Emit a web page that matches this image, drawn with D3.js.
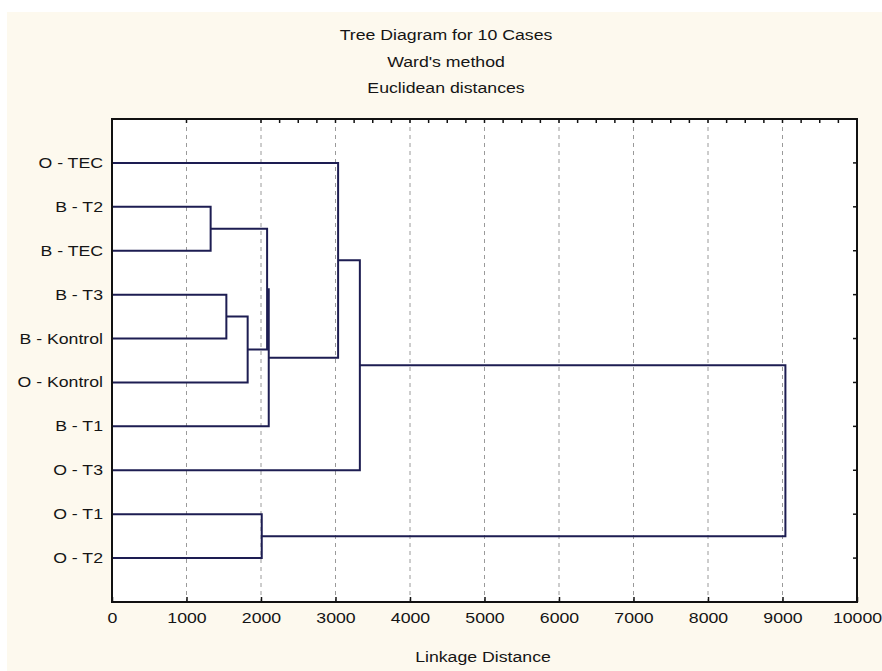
<!DOCTYPE html>
<html>
<head>
<meta charset="utf-8">
<script src="https://cdn.jsdelivr.net/npm/d3@7"></script>
<style>
  body { margin: 0; background: #fff; }
  text { font-family: "Liberation Sans", Arial, sans-serif; fill: #151515; }
</style>
</head>
<body>
<svg id="chart" width="882" height="671"></svg>
<script>
const titleLines = ["Tree Diagram for 10 Cases", "Ward's method", "Euclidean distances"];
const xTitle = "Linkage Distance";

// leaves in drawing order, top to bottom
const leaves = ["O - TEC", "B - T2", "B - TEC", "B - T3", "B - Kontrol",
                "O - Kontrol", "B - T1", "O - T3", "O - T1", "O - T2"];

// linkage steps: [child a, child b, distance]; new cluster ids start at 10
const linkA = [1, 3, 11, 8, 10, 14, 0, 16, 17];
const linkB = [2, 4, 5, 9, 12, 6, 15, 7, 13];
const linkDist = [1324, 1535, 1821, 2010, 2082, 2104, 3035, 3327, 9039];

const xTicks = [0, 1000, 2000, 3000, 4000, 5000, 6000, 7000, 8000, 9000, 10000];

const svg = d3.select('#chart');
const W = 882, H = 671;
const plot = { left: 112, right: 857, top: 119, bottom: 602 };
const FS = 15, SX = 1.18; // wide, low-res looking font

// panel background
svg.append('rect').attr('x', 7).attr('y', 12).attr('width', W - 7).attr('height', H - 12)
  .attr('fill', '#fdf9ee');
svg.append('rect').attr('x', plot.left).attr('y', plot.top)
  .attr('width', plot.right - plot.left).attr('height', plot.bottom - plot.top)
  .attr('fill', '#fff');

const x = d3.scaleLinear().domain([0, 10000]).range([plot.left, plot.right]);
const y = d3.scaleLinear().domain([0, leaves.length + 1]).range([plot.top, plot.bottom]);

function label(g, tx, ty, str, anchor) {
  return g.append('text')
    .attr('transform', `translate(${tx},${ty}) scale(${SX},1)`)
    .attr('text-anchor', anchor).attr('font-size', FS).text(str);
}

// title
const tg = svg.append('g');
titleLines.forEach((t, i) => label(tg, 446, 40 + i * 26.5, t, 'middle'));

// dashed grid
svg.append('g').selectAll('line').data(xTicks.slice(1, -1)).enter().append('line')
  .attr('x1', d => x(d)).attr('x2', d => x(d))
  .attr('y1', plot.top).attr('y2', plot.bottom)
  .attr('stroke', '#9a9a9a').attr('stroke-width', 1).attr('stroke-dasharray', '4,4');

// dendrogram
const nodeY = leaves.map((d, i) => y(i + 1));
const nodeD = leaves.map(() => 0);
const links = svg.append('g').attr('fill', 'none').attr('stroke', '#1d1d52').attr('stroke-width', 2);
linkDist.forEach((d, i) => {
  const a = linkA[i], b = linkB[i];
  links.append('path')
    .attr('d', `M${x(nodeD[a])},${nodeY[a]}H${x(d)}V${nodeY[b]}H${x(nodeD[b])}`);
  nodeY.push((nodeY[a] + nodeY[b]) / 2);
  nodeD.push(d);
});

// frame
svg.append('rect').attr('x', plot.left).attr('y', plot.top)
  .attr('width', plot.right - plot.left).attr('height', plot.bottom - plot.top)
  .attr('fill', 'none').attr('stroke', '#111').attr('stroke-width', 2);

// bottom axis
const xAxis = svg.append('g').attr('transform', `translate(0,${plot.bottom})`)
  .call(d3.axisBottom(x).tickValues(xTicks).tickSize(-5).tickPadding(10).tickFormat(d3.format('d')));
xAxis.select('.domain').remove();
xAxis.selectAll('line').attr('stroke', '#111').attr('stroke-width', 1.5);
xAxis.selectAll('text').attr('font-size', FS).attr('transform', `scale(${SX},1)`)
  .attr('font-family', '"Liberation Sans", Arial, sans-serif').attr('fill', '#151515');

// top ticks
const topTicks = d3.range(2000, 10000, 250).concat([1000]);
svg.append('g').selectAll('line').data(topTicks).enter().append('line')
  .attr('x1', d => x(d)).attr('x2', d => x(d))
  .attr('y1', plot.top).attr('y2', plot.top + 4)
  .attr('stroke', '#111').attr('stroke-width', 1.5);

// right ticks at the leaves
svg.append('g').selectAll('line').data(leaves).enter().append('line')
  .attr('x1', plot.right).attr('x2', plot.right - 4)
  .attr('y1', (d, i) => y(i + 1)).attr('y2', (d, i) => y(i + 1))
  .attr('stroke', '#111').attr('stroke-width', 1.5);

// leaf labels
const lg = svg.append('g');
leaves.forEach((t, i) => label(lg, plot.left - 9, y(i + 1) + 5, t, 'end'));

// axis title
label(svg, 483, 662, xTitle, 'middle');
</script>
</body>
</html>
